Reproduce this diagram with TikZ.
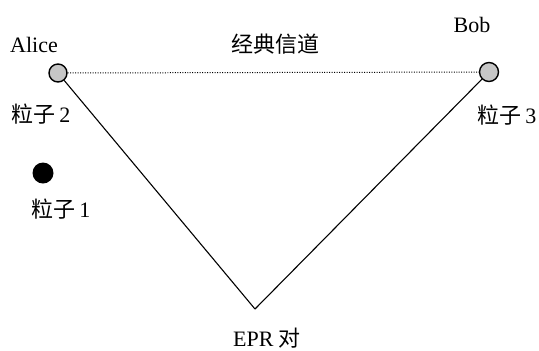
\documentclass[tikz,border=0pt]{standalone}
\usepackage{fontspec}
\setmainfont{Liberation Serif}
\newfontfamily\cjk{Noto Sans CJK SC}
\begin{document}
\begin{tikzpicture}[x=1bp,y=-1bp,
  particle/.style={circle,draw=black,line width=1.4pt,fill=gray!45,minimum size=18bp,inner sep=0pt},
  lbl/.style={font=\fontsize{22bp}{26bp}\selectfont,inner sep=0pt},
  conn/.style={line width=1.1pt}]
\useasboundingbox (0,0) rectangle (539,350);
\node[particle] (alice) at (58,73) {};
\node[particle,minimum size=19bp] (bob) at (489,72) {};
\coordinate (epr) at (255,309);
\node[circle,fill=black,minimum size=21bp,inner sep=0pt] (p1) at (43,173) {};
\draw[line width=1pt,dash pattern=on 1pt off 1.5pt] (alice) -- (bob);
\draw[conn] (alice) -- (epr);
\draw[conn] (bob) -- (epr);
\node[lbl,anchor=base] (la) at (34,52) {Alice};
\node[lbl,anchor=base] (lb) at (472,32) {Bob};
\node[lbl] (lc) at (275,44) {\cjk 经典信道};
\node[lbl] (l2) at (41,114) {\cjk 粒子\,\rmfamily 2};
\node[lbl] (l3) at (507,115) {\cjk 粒子\,\rmfamily 3};
\node[lbl] (l1) at (61,209) {\cjk 粒子\,\rmfamily 1};
\node[lbl] (le) at (267,338) {EPR \cjk 对};
\end{tikzpicture}
\end{document}
